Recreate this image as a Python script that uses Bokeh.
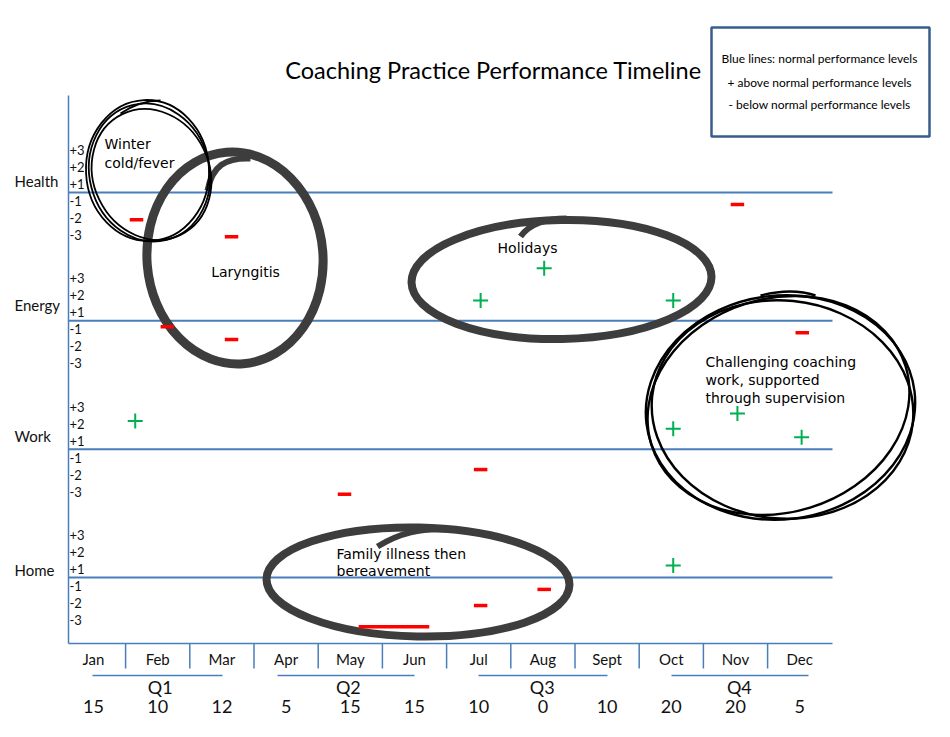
import numpy as np
from bokeh.plotting import figure
from bokeh.models import Range1d
from bokeh.embed import file_html
from bokeh.resources import INLINE
from bokeh.core.properties import value

# ---------------- data ----------------
MONTHS = ["Jan", "Feb", "Mar", "Apr", "May", "Jun", "Jul", "Aug", "Sept", "Oct", "Nov", "Dec"]
MONTH_SCORES = ["15", "10", "12", "5", "15", "15", "10", "0", "10", "20", "20", "5"]
QUARTERS = ["Q1", "Q2", "Q3", "Q4"]
CATEGORIES = ["Health", "Energy", "Work", "Home"]
LEVEL_LABELS = ["+3", "+2", "+1", "-1", "-2", "-3"]
LEVEL_VALUES = [3, 2, 1, -1, -2, -3]

# above-normal marks (+): category, month position (0 = Jan), level
PLUS_CAT = ["Energy", "Energy", "Energy", "Work", "Work", "Work", "Work", "Home"]
PLUS_MONTH = [6.03, 7.02, 9.03, 0.65, 9.03, 10.03, 11.03, 9.03]
PLUS_LEVEL = [1.7, 3.6, 1.7, 2.15, 1.7, 2.6, 1.2, 1.2]

# below-normal marks (-): category, month position, level, duration in months
MINUS_CAT = ["Health", "Health", "Health", "Energy", "Energy", "Energy",
             "Work", "Work", "Home", "Home", "Home"]
MINUS_MONTH = [0.67, 2.15, 10.03, 1.15, 2.15, 11.04, 6.03, 3.91, 7.02, 6.03, 4.68]
MINUS_LEVEL = [-2.1, -3.1, -1.2, -0.85, -1.6, -1.2, -1.7, -3.15, -1.2, -2.15, -3.4]
MINUS_SPAN = [0.21, 0.21, 0.21, 0.21, 0.21, 0.21, 0.21, 0.21, 0.21, 0.21, 1.1]

TITLE = "Coaching Practice Performance Timeline"
LEGEND_LINES = ["Blue lines: normal performance levels",
                "+ above normal performance levels",
                "- below normal performance levels"]
NOTES = ["Winter", "cold/fever", "Laryngitis", "Holidays", "Challenging coaching",
         "work, supported", "through supervision", "Family illness then", "bereavement"]

# ---------------- layout ----------------
ROW = {"Health": 3, "Energy": 2, "Work": 1, "Home": 0}
MONTH_PX = 64.2
ROW_PX = 128.33
X0_PX = 93.0      # pixel of Jan centre
Y0_PX = 577.0     # pixel of the Home baseline
LEVEL_STEP = 17.0 / ROW_PX
BLUE = "#4A7EBB"
FONT = value("Lato")
HAND = value("DejaVu Sans")
W, H = 934, 720


def gx(px):  # layout helper: page pixel -> x data
    return (np.asarray(px, dtype=float) - X0_PX) / MONTH_PX


def gy(py):  # layout helper: page pixel -> y data
    return (Y0_PX - np.asarray(py, dtype=float)) / ROW_PX


def level_y(cat, lvl):
    lvl = np.asarray(lvl, dtype=float)
    base = np.array([ROW[c] for c in cat], dtype=float)
    return base + (lvl - 0.5 * np.sign(lvl)) * LEVEL_STEP


p = figure(width=W, height=H,
           x_range=Range1d(float(gx(0)), float(gx(W))), y_range=Range1d(float(gy(H)), float(gy(0))),
           output_backend="svg", toolbar_location=None, min_border=0,
           x_axis_location=None, y_axis_location=None)
p.grid.visible = False
p.outline_line_color = None
p.background_fill_color = "white"

AX_X = float(gx(68))
X_END = float(gx(832))
AX_BOTTOM = float(gy(643))

# axes frame
p.segment(x0=[AX_X], y0=[AX_BOTTOM], x1=[AX_X], y1=[float(gy(95))], line_color=BLUE, line_width=1.5)
p.segment(x0=[AX_X], y0=[AX_BOTTOM], x1=[X_END], y1=[AX_BOTTOM], line_color=BLUE, line_width=1.5)
sep_x = [i + 0.5 for i in range(len(MONTHS) - 1)]
p.segment(x0=sep_x, y0=[AX_BOTTOM] * len(sep_x), x1=sep_x, y1=[float(gy(668))] * len(sep_x),
          line_color=BLUE, line_width=1.5)

# normal-level baselines
rows = [ROW[c] for c in CATEGORIES]
p.segment(x0=[AX_X] * 4, y0=rows, x1=[X_END] * 4, y1=rows, line_color=BLUE, line_width=2)

# category labels
cat_dy = np.array([12, 16, 13, 8]) / ROW_PX
p.text(x=[float(gx(14))] * 4, y=list(np.array(rows) + cat_dy), text=CATEGORIES,
       text_font=FONT, text_font_size="15px", text_color="#111111",
       text_align="left", text_baseline="middle")

# level labels
lx, ly, lt = [], [], []
for c in CATEGORIES:
    for lab, v in zip(LEVEL_LABELS, LEVEL_VALUES):
        lx.append(float(gx(69)))
        ly.append(float(level_y([c], [v])[0]))
        lt.append(lab)
p.text(x=lx, y=ly, text=lt, text_font=FONT, text_font_size="13px", text_color="#111111",
       text_align="left", text_baseline="middle")

# month axis labels
mx = list(range(len(MONTHS)))
p.text(x=mx, y=[float(gy(658))] * 12, text=MONTHS, text_font=FONT, text_font_size="15px",
       text_color="#111111", text_align="center", text_baseline="middle")
# quarter lines + labels
q_start = gx([92, 277, 478, 671])
q_end = gx([222, 414, 607, 808])
qy = float(gy(675))
p.segment(x0=q_start, y0=[qy] * 4, x1=q_end, y1=[qy] * 4, line_color=BLUE, line_width=1.3)
p.text(x=[1.04, 3.97, 6.99, 10.06], y=[float(gy(686))] * 4, text=QUARTERS, text_font=FONT,
       text_font_size="18px", text_color="#111111", text_align="center", text_baseline="middle")
p.text(x=mx, y=[float(gy(706))] * 12, text=MONTH_SCORES, text_font=FONT, text_font_size="18px",
       text_color="#111111", text_align="center", text_baseline="middle")

# hand-drawn circles (decoration)
thick = "#3d3d3d"
p.ellipse(x=gx([234.5]), y=gy([257.5]), width=[176], height=[212], angle=[0.08],
          width_units="screen", height_units="screen", fill_color=None,
          line_color=thick, line_width=9)
p.ellipse(x=gx([561]), y=gy([279]), width=[300], height=[119], angle=[0.02],
          width_units="screen", height_units="screen", fill_color=None,
          line_color=thick, line_width=8)
p.ellipse(x=gx([417.5]), y=gy([581.5]), width=[303], height=[109], angle=[-0.02],
          width_units="screen", height_units="screen", fill_color=None,
          line_color=thick, line_width=8)
# hooks where the thick strokes start
p.bezier(x0=gx([207, 520, 377]), y0=gy([190, 236, 546]),
         x1=gx([250, 566, 445]), y1=gy([158, 218, 529]),
         cx0=gx([212, 530, 400]), cy0=gy([165, 222, 532]),
         cx1=gx([225, 548, 420]), cy1=gy([157, 218, 528]),
         line_color=thick, line_width=6)
p.ellipse(x=gx([149, 151, 147]), y=gy([172, 174, 170]), width=[120, 116, 123],
          height=[139, 134, 141], angle=[0.25, 0.45, 0.05],
          width_units="screen", height_units="screen", fill_color=None,
          line_color="black", line_width=1.8)
p.bezier(x0=gx([120]), y0=gy([113]), x1=gx([160]), y1=gy([100]),
         cx0=gx([135]), cy0=gy([103]), cx1=gx([150]), cy1=gy([100]),
         line_color="black", line_width=1.8)
p.ellipse(x=gx([780, 782, 778]), y=gy([407, 409, 405]), width=[270, 262, 266],
          height=[224, 218, 214], angle=[0.12, -0.1, 0.3],
          width_units="screen", height_units="screen", fill_color=None,
          line_color="black", line_width=2.4)
p.bezier(x0=gx([760]), y0=gy([295]), x1=gx([815]), y1=gy([295]),
         cx0=gx([780]), cy0=gy([290]), cx1=gx([800]), cy1=gy([290]),
         line_color="black", line_width=2.4)

# marks
mm = np.array(MINUS_MONTH)
ms = np.array(MINUS_SPAN)
my = level_y(MINUS_CAT, MINUS_LEVEL)
p.segment(x0=mm - ms / 2, x1=mm + ms / 2, y0=my, y1=my,
          line_color="#FF0000", line_width=3.5, line_cap="butt")
p.scatter(x=PLUS_MONTH, y=level_y(PLUS_CAT, PLUS_LEVEL), marker="cross", size=15,
          line_color="#00B050", line_width=2)

# annotation texts
ann_x = gx([104, 104, 245, 527, 705, 705, 705, 336, 336])
ann_y = gy([143, 162, 271, 247, 361, 379, 397, 553, 570])
ann_a = ["left", "left", "center", "center", "left", "left", "left", "left", "left"]
p.text(x=ann_x, y=ann_y, text=NOTES, text_align=ann_a, text_font=HAND, text_font_size="14px",
       text_color="black", text_baseline="middle")

# title
p.text(x=gx([493]), y=gy([69]), text=[TITLE], text_font=FONT, text_font_size="23.5px",
       text_color="black", text_align="center", text_baseline="middle")

# legend box
p.quad(left=gx([711]), right=gx([929]), top=gy([27]), bottom=gy([136]), fill_color="white",
       line_color="#385D8A", line_width=2.5)
p.text(x=gx([819, 819, 819]), y=gy([58, 82, 104]), text=LEGEND_LINES, text_font=FONT,
       text_font_size="12px", text_color="black", text_align="center", text_baseline="middle")

open("out.html", "w").write(file_html(p, INLINE))
